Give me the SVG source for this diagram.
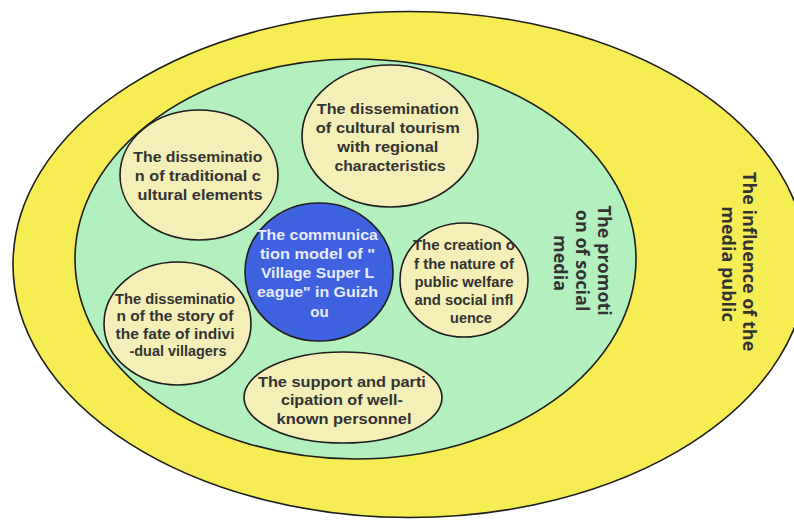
<svg xmlns="http://www.w3.org/2000/svg" width="794" height="520" viewBox="0 0 794 520">
  <style>
    .ring { stroke: #1e1e1e; stroke-width: 1.6; }
    .outer { fill: #f6ed55; }
    .middle { fill: #b2f1bd; }
    .item { fill: #f3efb6; stroke: #1e1e1e; stroke-width: 1.6; }
    .core { fill: #3f62e0; stroke: #1e1e1e; stroke-width: 1.6; }
    .lbl { font-family: "Liberation Sans", Arial, sans-serif; font-weight: bold; font-size: 15px; fill: #333333; text-anchor: middle; }
    .lbl-core { fill: #e8ebff; }
    .vlbl { font-family: "Open Sans", "Noto Sans", "DejaVu Sans", sans-serif; font-weight: bold; font-size: 18px; fill: #333333; text-anchor: middle; }
  </style>

  <rect width="794" height="520" fill="#ffffff"/>

  <!-- Outer ring: influence of the media public -->
  <g id="media-public">
    <ellipse class="ring outer" cx="410" cy="264.5" rx="397" ry="253"/>
    <text class="vlbl" transform="translate(743,264) rotate(90)">
      <tspan x="0" y="0">The influence of the</tspan>
      <tspan x="0" y="21">media public</tspan>
    </text>
  </g>

  <!-- Middle ring: promotion of social media -->
  <g id="social-media">
    <ellipse class="ring middle" cx="355.5" cy="259" rx="280.5" ry="200"/>
    <text class="vlbl" transform="translate(598,263) rotate(90)">
      <tspan x="0" y="0">The promoti</tspan>
      <tspan x="0" y="22.5">on of social</tspan>
      <tspan x="0" y="44">media</tspan>
    </text>
  </g>

  <g id="traditional-culture">
    <ellipse class="item" cx="199" cy="175" rx="79" ry="65"/>
    <text class="lbl" style="font-size:15.5px">
      <tspan x="200" y="162" textLength="129" lengthAdjust="spacingAndGlyphs">The disseminatio</tspan>
      <tspan x="200" y="181" textLength="126" lengthAdjust="spacingAndGlyphs">n of traditional c</tspan>
      <tspan x="200" y="200" textLength="125" lengthAdjust="spacingAndGlyphs">ultural elements</tspan>
    </text>
  </g>

  <g id="cultural-tourism">
    <ellipse class="item" cx="390" cy="136" rx="88" ry="71"/>
    <text class="lbl" style="font-size:15.5px">
      <tspan x="390" y="113.5" textLength="142" lengthAdjust="spacingAndGlyphs">The dissemination</tspan>
      <tspan x="390" y="132.5" textLength="144" lengthAdjust="spacingAndGlyphs">of cultural tourism</tspan>
      <tspan x="390" y="151.5" textLength="101" lengthAdjust="spacingAndGlyphs">with regional</tspan>
      <tspan x="390" y="170.5" textLength="111" lengthAdjust="spacingAndGlyphs">characteristics</tspan>
    </text>
  </g>

  <g id="communication-model">
    <ellipse class="core" cx="319" cy="272" rx="74" ry="69"/>
    <text class="lbl lbl-core">
      <tspan x="319.5" y="240" textLength="121" lengthAdjust="spacingAndGlyphs">The communica</tspan>
      <tspan x="319.5" y="259" textLength="115" lengthAdjust="spacingAndGlyphs">tion model of "</tspan>
      <tspan x="319.5" y="278" textLength="113" lengthAdjust="spacingAndGlyphs">Village Super L</tspan>
      <tspan x="319.5" y="297" textLength="121" lengthAdjust="spacingAndGlyphs">eague" in Guizh</tspan>
      <tspan x="319.5" y="316.5">ou</tspan>
    </text>
  </g>

  <g id="public-welfare">
    <ellipse class="item" cx="464" cy="280" rx="64" ry="57"/>
    <text class="lbl" style="font-size:14.5px">
      <tspan x="466" y="250" textLength="102" lengthAdjust="spacingAndGlyphs">The creation o</tspan>
      <tspan x="466" y="268.5" textLength="100" lengthAdjust="spacingAndGlyphs">f the nature of</tspan>
      <tspan x="466" y="287" textLength="99" lengthAdjust="spacingAndGlyphs">public welfare</tspan>
      <tspan x="466" y="305" textLength="99" lengthAdjust="spacingAndGlyphs">and social infl</tspan>
      <tspan x="471" y="322.5">uence</tspan>
    </text>
  </g>

  <g id="villager-stories">
    <ellipse class="item" cx="177.5" cy="323.5" rx="73.5" ry="61.5"/>
    <text class="lbl" style="font-size:14.5px">
      <tspan x="177" y="303.5" textLength="120" lengthAdjust="spacingAndGlyphs">The disseminatio</tspan>
      <tspan x="177" y="321" textLength="117" lengthAdjust="spacingAndGlyphs">n of the story of</tspan>
      <tspan x="177" y="338.5" textLength="119" lengthAdjust="spacingAndGlyphs">the fate of indivi</tspan>
      <tspan x="178" y="356" textLength="97" lengthAdjust="spacingAndGlyphs">-dual villagers</tspan>
    </text>
  </g>

  <g id="well-known-personnel">
    <ellipse class="item" cx="343" cy="397.5" rx="99" ry="45.5"/>
    <text class="lbl">
      <tspan x="344" y="387" textLength="168" lengthAdjust="spacingAndGlyphs">The support and parti</tspan>
      <tspan x="344" y="405" textLength="122" lengthAdjust="spacingAndGlyphs">cipation of well-</tspan>
      <tspan x="344" y="423.5" textLength="135" lengthAdjust="spacingAndGlyphs">known personnel</tspan>
    </text>
  </g>
</svg>
